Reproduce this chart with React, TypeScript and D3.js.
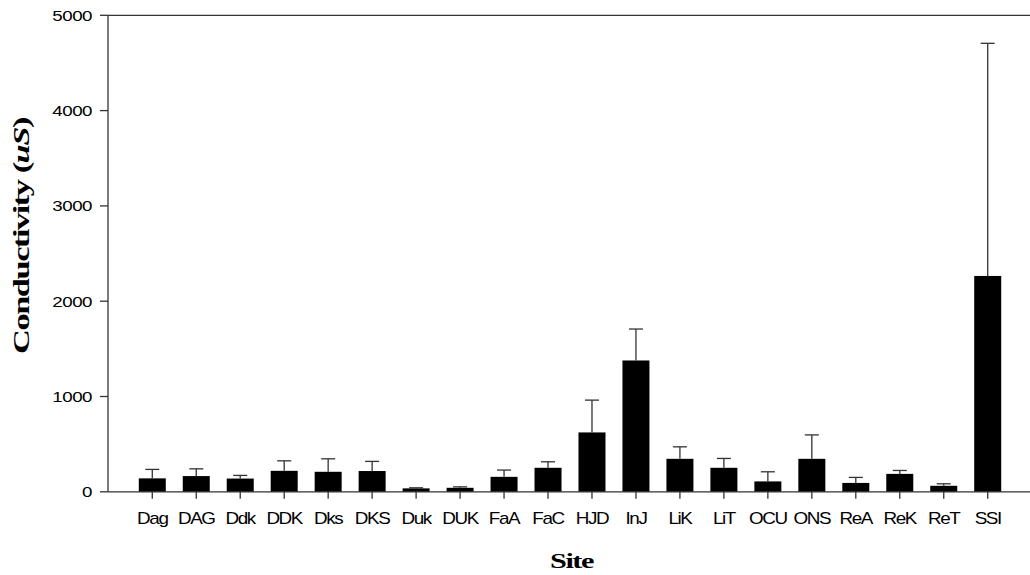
import React from "react";
import * as d3 from "d3";

// Mean conductivity per site and the standard error drawn above each bar
const sites = ["Dag", "DAG", "Ddk", "DDK", "Dks", "DKS", "Duk", "DUK", "FaA", "FaC", "HJD", "InJ", "LiK", "LiT", "OCU", "ONS", "ReA", "ReK", "ReT", "SSI"];
const meanConductivity = [141, 165, 139, 220, 210, 218, 36, 42, 157, 252, 623, 1378, 346, 252, 109, 346, 93, 188, 63, 2265];
const stdError = [94, 76, 33, 105, 136, 101, 6, 10, 71, 63, 339, 330, 126, 98, 101, 251, 58, 36, 21, 2441];
const yTicks = [0, 1000, 2000, 3000, 4000, 5000];

const W = 1030;
const H = 575;
const axisX = 108;
const plotTop = 15.3;
const plotBottom = 491.8;
const axisColor = "#333";
const sans = "'Liberation Sans', Arial, sans-serif";
const serif = "'Liberation Serif', 'Times New Roman', serif";

export default function App() {
  const x = d3
    .scaleBand<string>()
    .domain(sites)
    .range([130.3, 1009.7])
    .paddingInner(0.386)
    .paddingOuter(0.193);
  const y = d3.scaleLinear().domain([0, 5000]).range([plotBottom, plotTop]);
  const bw = x.bandwidth();
  const cap = 7;

  return (
    <svg
      width={W}
      height={H}
      style={{ position: "absolute", left: 0, top: 0, background: "#fff" }}
    >
      {/* bars */}
      {sites.map((s, i) => (
        <rect
          key={"b" + s}
          x={x(s)!}
          y={y(meanConductivity[i])}
          width={bw}
          height={plotBottom - y(meanConductivity[i])}
          fill="#000"
        />
      ))}
      {/* upper error bars */}
      {sites.map((s, i) => {
        const cx = x(s)! + bw / 2;
        const top = y(meanConductivity[i] + stdError[i]);
        return (
          <g key={"e" + s} stroke={axisColor} strokeWidth={1.3}>
            <line x1={cx} x2={cx} y1={y(meanConductivity[i])} y2={top} />
            <line x1={cx - cap} x2={cx + cap} y1={top} y2={top} />
          </g>
        );
      })}
      {/* frame: top border, y axis, x axis */}
      <g stroke={axisColor} strokeWidth={1.3} fill="none">
        <line x1={axisX} x2={W} y1={plotTop} y2={plotTop} />
        <line x1={axisX} x2={axisX} y1={plotTop} y2={plotBottom} />
        <line x1={axisX} x2={W} y1={plotBottom} y2={plotBottom} />
        {yTicks.map((t) => (
          <line key={"yt" + t} x1={axisX - 8} x2={axisX} y1={y(t)} y2={y(t)} />
        ))}
        {sites.map((s) => {
          const cx = x(s)! + bw / 2;
          return <line key={"xt" + s} x1={cx} x2={cx} y1={plotBottom} y2={plotBottom + 7} />;
        })}
      </g>
      {/* y tick labels */}
      {yTicks.map((t) => (
        <text
          key={"yl" + t}
          transform={`translate(92,${y(t) + 5.5}) scale(1.25,1)`}
          textAnchor="end"
          fontFamily={sans}
          fontSize={15}
          letterSpacing={-0.4}
          fill="#000"
        >
          {t}
        </text>
      ))}
      {/* x tick labels */}
      {sites.map((s) => (
        <text
          key={"xl" + s}
          transform={`translate(${x(s)! + bw / 2},524) scale(1.18,1)`}
          textAnchor="middle"
          fontFamily={sans}
          fontSize={16}
          letterSpacing={-1.2}
          fill="#000"
        >
          {s}
        </text>
      ))}
      {/* axis titles */}
      <text
        x={571.5}
        y={568}
        textAnchor="middle"
        fontFamily={serif}
        fontWeight="bold"
        fontSize={21}
        letterSpacing={-1}
        textLength={43}
        lengthAdjust="spacingAndGlyphs"
        fill="#000"
      >
        Site
      </text>
      <text
        transform="translate(29,236) rotate(-90)"
        textAnchor="middle"
        fontFamily={serif}
        fontWeight="bold"
        fontSize={23}
        letterSpacing={-1}
        textLength={236}
        lengthAdjust="spacingAndGlyphs"
        fill="#000"
      >
        Conductivity (<tspan fontStyle="italic">uS</tspan>)
      </text>
    </svg>
  );
}
